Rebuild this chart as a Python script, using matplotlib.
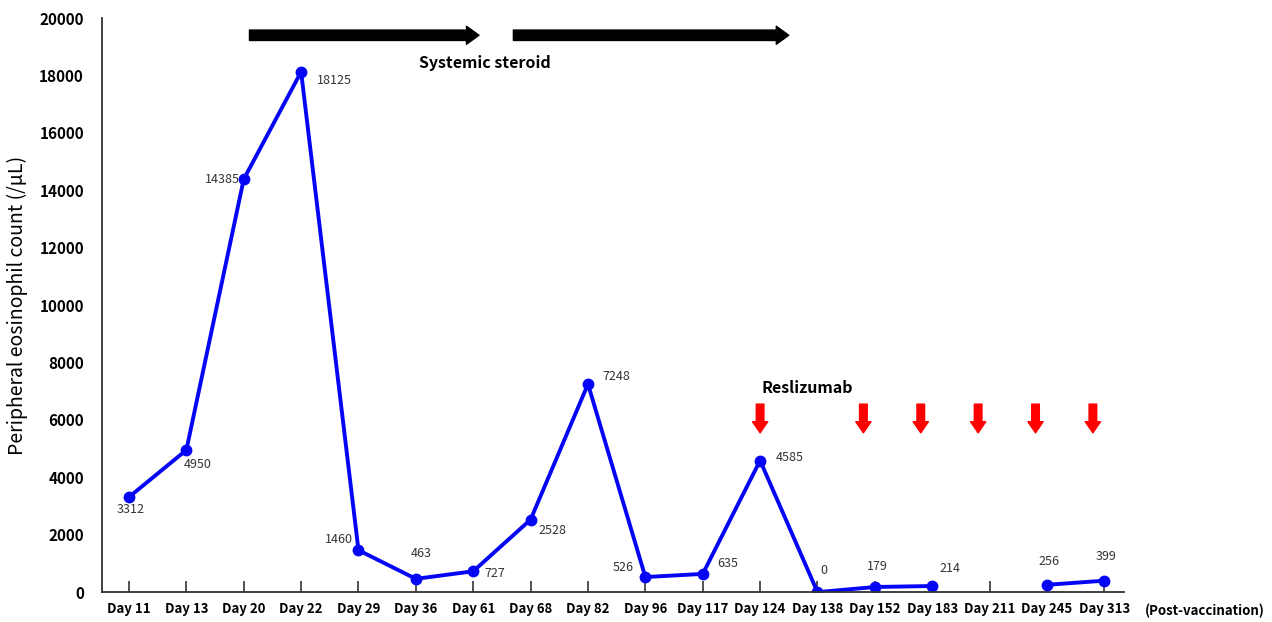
import numpy as np
import matplotlib.pyplot as plt

plt.rcParams['font.family'] = ['Noto Sans CJK KR', 'DejaVu Sans']

days = ['Day 11', 'Day 13', 'Day 20', 'Day 22', 'Day 29', 'Day 36', 'Day 61',
        'Day 68', 'Day 82', 'Day 96', 'Day 117', 'Day 124', 'Day 138',
        'Day 152', 'Day 183', 'Day 211', 'Day 245', 'Day 313']
counts = [3312, 4950, 14385, 18125, 1460, 463, 727, 2528, 7248, 526, 635,
          4585, 0, 179, 214, np.nan, 256, 399]

# steroid courses (start, end in category units) and reslizumab doses
steroid_periods = [(2.1, 6.1), (6.7, 11.5)]
reslizumab_doses = [11.0, 12.8, 13.8, 14.8, 15.8, 16.8]

# label offsets in pixels (dx, dy) for each point
label_offsets = [(2, -12), (11, -14), (-21, 0), (33, -9), (-20, 11), (5, 25),
                 (22, -2), (22, -11), (28, 8), (-22, 10), (25, 10), (30, 3),
                 (6, 22), (2, 21), (18, 18), None, (2, 23), (2, 24)]

x = np.arange(len(days))

fig = plt.figure(figsize=(12.72, 6.22), dpi=100)
ax = fig.add_subplot(1, 1, 1)
fig.subplots_adjust(left=0.0802, right=0.884, bottom=0.048, top=0.971)

ax.plot(x, counts, color='#0505f5', linewidth=2.8, marker='o', markersize=7.5)

for i, v in enumerate(counts):
    if label_offsets[i] is None:
        continue
    ax.annotate(str(v), (x[i], v), xytext=label_offsets[i],
                textcoords='offset pixels', ha='center', va='center',
                fontsize=9, color='#333333')

for s, e in steroid_periods:
    ax.annotate('', xy=(e, 19400), xytext=(s, 19400),
                arrowprops=dict(arrowstyle='simple,head_length=0.9,head_width=1.3,tail_width=0.75',
                                color='black', shrinkA=0, shrinkB=0))
ax.text(6.2, 18430, 'Systemic steroid', ha='center', va='center',
        fontsize=11.5, fontweight='bold')

for d in reslizumab_doses:
    ax.annotate('', xy=(d, 5550), xytext=(d, 6550),
                arrowprops=dict(arrowstyle='simple,head_length=0.8,head_width=1.1,tail_width=0.55',
                                color='#ff0000', shrinkA=0, shrinkB=0))
ax.text(11.82, 7120, 'Reslizumab', ha='center', va='center',
        fontsize=11.5, fontweight='bold')

ax.set_xlim(-0.47, 17.35)
ax.set_ylim(0, 20000)
ax.set_xticks(x)
ax.set_xticklabels(days, fontsize=9.5, fontweight='bold')
ax.set_yticks(np.arange(0, 20001, 2000))
ax.set_yticklabels([str(t) for t in range(0, 20001, 2000)], fontsize=11, fontweight='bold')
ax.tick_params(axis='x', direction='in', length=8, width=1.2, color='#333333', pad=7)
ax.tick_params(axis='y', length=0, pad=13)
ax.set_ylabel('Peripheral eosinophil count (/μL)', fontsize=14, labelpad=8)

for side in ['top', 'right']:
    ax.spines[side].set_visible(False)
for side in ['left', 'bottom']:
    ax.spines[side].set_color('#333333')
    ax.spines[side].set_linewidth(1.3)

fig.text(0.994, 0.018, '(Post-vaccination)', ha='right', va='center',
         fontsize=9.5, fontweight='bold')

plt.savefig('out.png')
